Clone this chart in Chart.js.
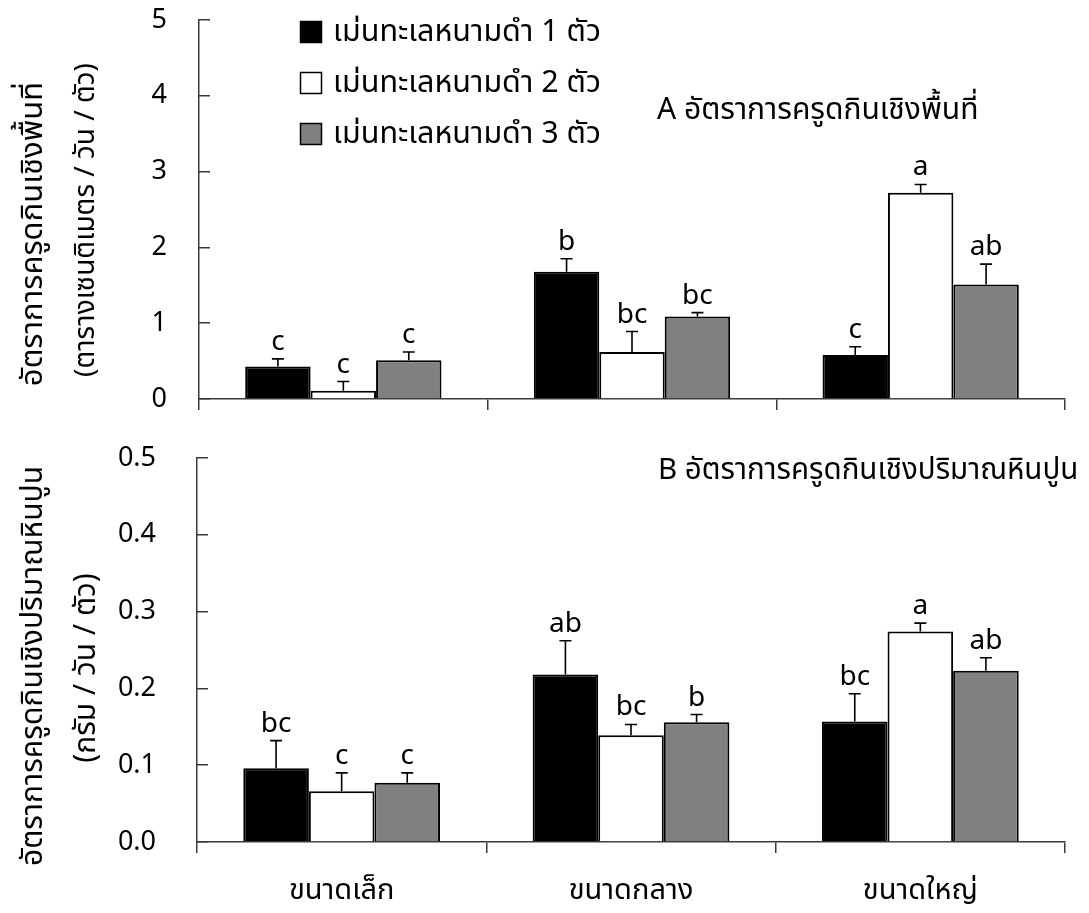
<!DOCTYPE html>
<html><head><meta charset="utf-8">
<script src="https://cdn.jsdelivr.net/npm/chart.js@4.4.1/dist/chart.umd.min.js"></script>
<style>
html,body{margin:0;padding:0;background:#fff;}
#wrap{position:relative;width:1089px;height:913px;background:#fff;}
#ca{position:absolute;left:0;top:0;width:1089px;height:430px;}
#cb{position:absolute;left:0;top:430px;width:1089px;height:483px;}
</style></head><body>
<div id="wrap"><div id="ca"><canvas id="a"></canvas></div><div id="cb"><canvas id="b"></canvas></div></div>
<script>
// ---- data ----
const categories = ['ขนาดเล็ก', 'ขนาดกลาง', 'ขนาดใหญ่'];
const seriesNames = ['เม่นทะเลหนามดำ 1 ตัว', 'เม่นทะเลหนามดำ 2 ตัว', 'เม่นทะเลหนามดำ 3 ตัว'];
const seriesColors = ['#000000', '#ffffff', '#808080'];

// Panel A: area grazing rate (cm2 / day / individual)
const areaOne = [0.43, 1.68, 0.58];
const areaTwo = [0.11, 0.62, 2.72];
const areaThree = [0.51, 1.09, 1.51];
const areaOneSE = [0.10, 0.17, 0.11];
const areaTwoSE = [0.12, 0.27, 0.11];
const areaThreeSE = [0.11, 0.05, 0.27];
const areaOneLetters = ['c', 'b', 'c'];
const areaTwoLetters = ['c', 'bc', 'a'];
const areaThreeLetters = ['c', 'bc', 'ab'];
const areaTicks = [0, 1, 2, 3, 4, 5];

// Panel B: CaCO3 grazing rate (g / day / individual)
const limeOne = [0.096, 0.218, 0.157];
const limeTwo = [0.066, 0.139, 0.274];
const limeThree = [0.077, 0.156, 0.223];
const limeOneSE = [0.036, 0.044, 0.036];
const limeTwoSE = [0.024, 0.014, 0.011];
const limeThreeSE = [0.013, 0.010, 0.017];
const limeOneLetters = ['bc', 'ab', 'bc'];
const limeTwoLetters = ['c', 'bc', 'a'];
const limeThreeLetters = ['c', 'b', 'ab'];
const limeTicks = ['0.0', '0.1', '0.2', '0.3', '0.4', '0.5'];

const titleA = 'A อัตราการครูดกินเชิงพื้นที่';
const titleB = 'B อัตราการครูดกินเชิงปริมาณหินปูน';
const yTitleA = ['อัตราการครูดกินเชิงพื้นที่', '(ตารางเซนติเมตร / วัน / ตัว)'];
const yTitleB = ['อัตราการครูดกินเชิงปริมาณหินปูน', '(กรัม / วัน / ตัว)'];

// ---- styling ----
const FAM = '"Noto Sans", "Noto Sans Thai", "DejaVu Sans", sans-serif';
const AX = '#3a3a3a';

function makeDatasets(vals, ses, letters) {
  return vals.map((v, i) => ({
    label: seriesNames[i],
    data: v,
    errors: ses[i],
    letters: letters[i],
    backgroundColor: seriesColors[i],
    borderColor: '#000',
    borderWidth: 2,
    borderSkipped: 'start'
  }));
}

const errPlugin = {
  id: 'errbars',
  afterDatasetsDraw(chart) {
    const ctx = chart.ctx, ys = chart.scales.y;
    chart.data.datasets.forEach((ds, i) => {
      const meta = chart.getDatasetMeta(i);
      meta.data.forEach((bar, j) => {
        const top = ys.getPixelForValue(ds.data[j] + ds.errors[j]);
        ctx.save();
        ctx.strokeStyle = '#000';
        ctx.lineWidth = 1.6;
        ctx.beginPath();
        ctx.moveTo(bar.x, bar.y); ctx.lineTo(bar.x, top);
        ctx.moveTo(bar.x - 6, top); ctx.lineTo(bar.x + 6, top);
        ctx.stroke();
        ctx.font = '28px ' + FAM;
        ctx.fillStyle = '#000';
        ctx.textAlign = 'center';
        ctx.textBaseline = 'alphabetic';
        ctx.fillText(ds.letters[j], bar.x, top - 9);
        ctx.restore();
      });
    });
  }
};

function textPlugin(cfg) {
  return {
    id: 'texts',
    afterDraw(chart) {
      const ctx = chart.ctx;
      ctx.save();
      ctx.fillStyle = '#000';
      // panel title
      ctx.font = cfg.titleSize + 'px ' + FAM;
      ctx.textAlign = 'left';
      ctx.textBaseline = 'middle';
      ctx.fillText(cfg.title, cfg.titleX, cfg.titleY);
      // y-axis titles (rotated)
      cfg.yTitle.forEach((t, k) => {
        ctx.save();
        ctx.translate(cfg.yTitleX[k], cfg.yTitleY[k]);
        ctx.rotate(-Math.PI / 2);
        ctx.font = cfg.yTitleSize[k] + 'px ' + FAM;
        ctx.textAlign = 'center';
        ctx.textBaseline = 'middle';
        ctx.fillText(t, 0, 0);
        ctx.restore();
      });
      // legend
      if (cfg.legend) {
        chart.data.datasets.forEach((ds, i) => {
          const y = cfg.legendY + i * cfg.legendStep;
          ctx.fillStyle = ds.backgroundColor;
          ctx.fillRect(cfg.legendX, y - 11, 22, 22);
          ctx.strokeStyle = '#000';
          ctx.lineWidth = 1.5;
          ctx.strokeRect(cfg.legendX + 0.5, y - 10.5, 21, 21);
          ctx.fillStyle = '#000';
          ctx.font = '30.5px ' + FAM;
          ctx.textAlign = 'left';
          ctx.textBaseline = 'middle';
          ctx.fillText(ds.label, cfg.legendX + 33, y);
        });
      }
      ctx.restore();
    }
  };
}

function makeChart(id, datasets, yCfg, xLabels, pad, xHeight, yWidth, extra) {
  return new Chart(document.getElementById(id), {
    type: 'bar',
    data: { labels: categories, datasets },
    options: {
      responsive: true,
      maintainAspectRatio: false,
      animation: false,
      devicePixelRatio: 1,
      layout: { padding: pad },
      datasets: { bar: { categoryPercentage: 0.68, barPercentage: 1.0 } },
      plugins: { legend: { display: false }, tooltip: { enabled: false } },
      scales: {
        x: {
          grid: { offset: true, drawOnChartArea: false, tickLength: 11, color: AX, lineWidth: 1.5 },
          border: { color: AX, width: 1.5 },
          ticks: {
            display: true,
            color: xLabels ? '#000' : 'rgba(0,0,0,0)',
            font: { family: FAM, size: 29 },
            padding: 20,
            maxRotation: 0
          },
          afterFit(s) { s.height = xHeight; s.paddingLeft = 0; s.paddingRight = 0; }
        },
        y: {
          min: yCfg.min, max: yCfg.max,
          afterBuildTicks(s) { s.ticks = yCfg.ticks.map(v => ({ value: Number(v) })); },
          ticks: {
            font: { family: FAM, size: 27 },
            color: '#000',
            padding: yCfg.padding,
            callback: (v, i) => yCfg.ticks[i]
          },
          grid: { drawOnChartArea: false, tickLength: -11, color: AX, lineWidth: 1.5 },
          border: { color: AX, width: 1.5 },
          afterFit(s) { s.width = yWidth; s.paddingTop = 0; s.paddingBottom = 0; }
        }
      }
    },
    plugins: [errPlugin, textPlugin(extra)]
  });
}

makeChart('a',
  makeDatasets([areaOne, areaTwo, areaThree], [areaOneSE, areaTwoSE, areaThreeSE], [areaOneLetters, areaTwoLetters, areaThreeLetters]),
  { min: 0, max: 5, ticks: areaTicks, padding: 43 },
  false, { left: 0, right: 24, top: 20, bottom: 0 }, 31, 199,
  { title: titleA, titleX: 657, titleY: 110, titleSize: 30,
    yTitle: yTitleA, yTitleX: [33, 86], yTitleY: [234, 220], yTitleSize: [31, 28],
    legend: true, legendX: 300, legendY: 32, legendStep: 51 });

makeChart('b',
  makeDatasets([limeOne, limeTwo, limeThree], [limeOneSE, limeTwoSE, limeThreeSE], [limeOneLetters, limeTwoLetters, limeThreeLetters]),
  { min: 0, max: 0.5, ticks: limeTicks, padding: 52 },
  true, { left: 0, right: 24, top: 28, bottom: 0 }, 71, 197,
  { title: titleB, titleX: 658, titleY: 41, titleSize: 29.5,
    yTitle: yTitleB, yTitleX: [33, 86], yTitleY: [236, 238], yTitleSize: [30, 30],
    legend: false });
</script>
</body></html>
